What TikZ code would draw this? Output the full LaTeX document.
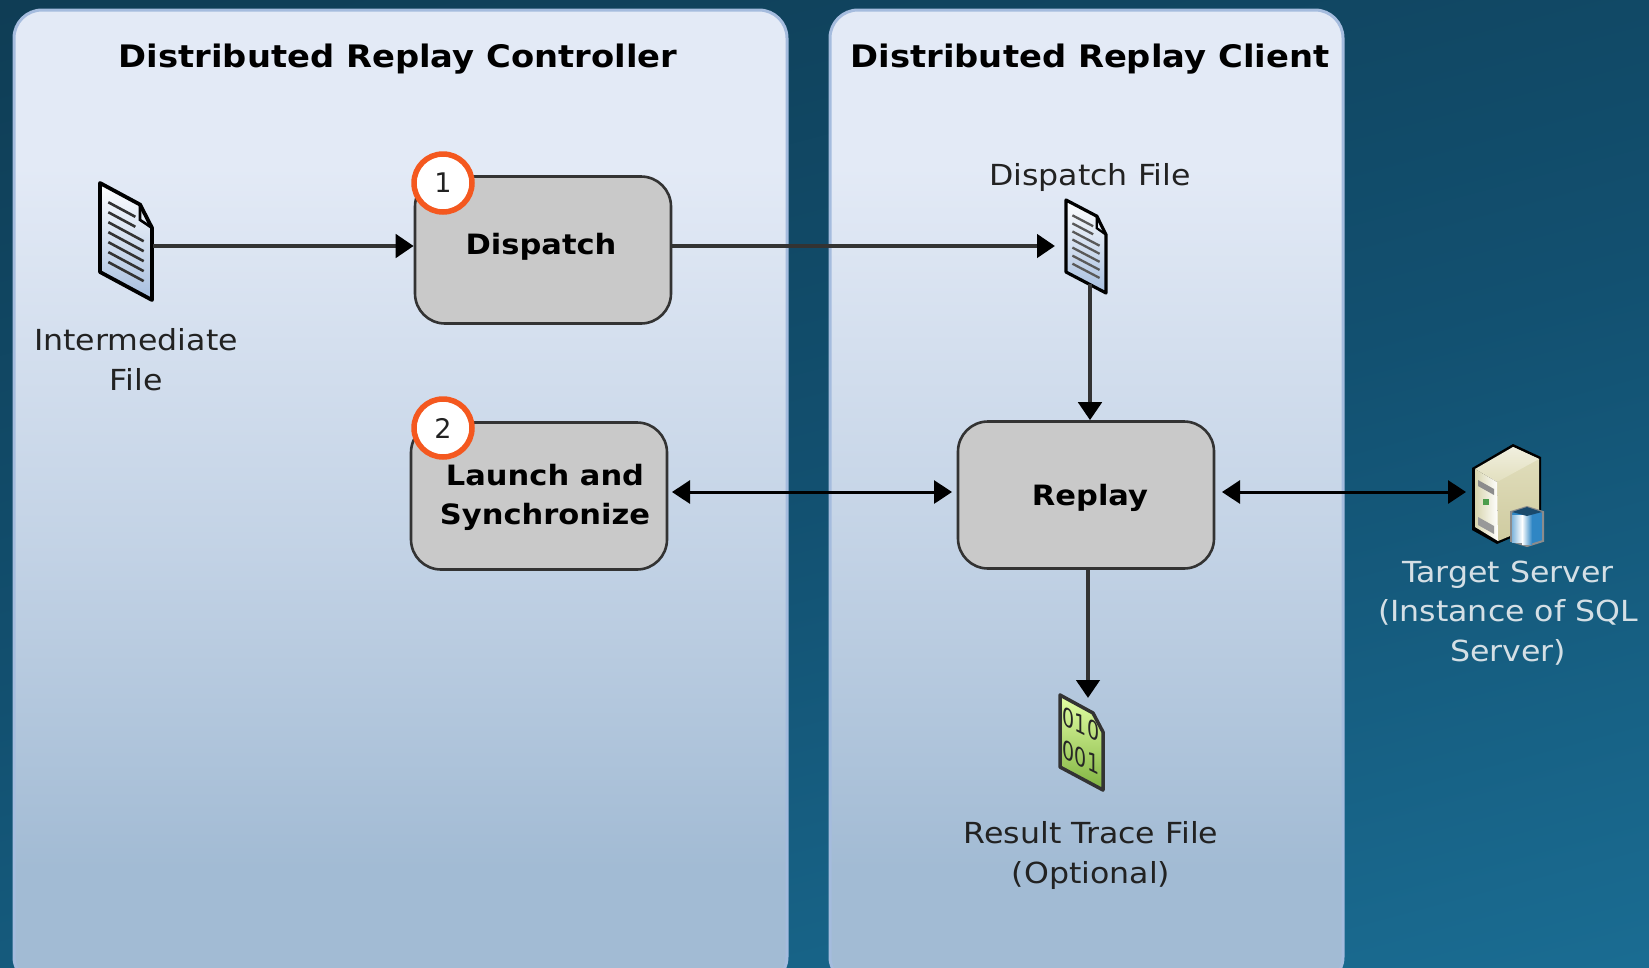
\documentclass[tikz,border=0pt]{standalone}
\usepackage{fontspec}
\setmainfont{DejaVu Sans}
\newfontfamily\wideface[FakeStretch=1.09]{DejaVu Sans}
\usetikzlibrary{arrows.meta}
\definecolor{bgTop}{HTML}{0F3D55}
\definecolor{bgMid}{HTML}{125070}
\definecolor{bgBot}{HTML}{1A6C92}
\definecolor{panelTop}{HTML}{E3EAF6}
\definecolor{panelMid}{HTML}{C2D2E5}
\definecolor{panelBot}{HTML}{A2BBD4}
\definecolor{panelEdge}{HTML}{A5BCDE}
\definecolor{boxFill}{HTML}{C9C9C9}
\definecolor{lineDark}{HTML}{333333}
\definecolor{badge}{HTML}{F4581F}
\definecolor{inkDark}{HTML}{222222}
\definecolor{fileBlue}{HTML}{A6BEDF}
\definecolor{srvSide}{HTML}{CFCBA0}
\definecolor{srvTop}{HTML}{E2DFBE}
\definecolor{srvFront}{HTML}{D8D5AE}
\definecolor{dbBlue}{HTML}{2F86C4}
\pgfdeclareverticalshading{panelshade}{100bp}{color(0bp)=(panelBot); color(31bp)=(panelBot); color(47bp)=(panelMid); color(67bp)=(panelTop); color(100bp)=(panelTop)}
\tikzset{
  x=1pt,y=-1pt,
  panel/.style={draw=panelEdge,line width=3pt,rounded corners=28pt,shading=panelshade},
  stepbox/.style={draw=lineDark,line width=2.6pt,rounded corners=30pt,fill=boxFill,minimum width=256pt,minimum height=147pt,inner sep=0pt},
  steptext/.style={font=\wideface\bfseries\fontsize{28}{39}\selectfont,text=black,align=center,inner sep=0pt},
  title/.style={font=\wideface\bfseries\fontsize{31}{36}\selectfont,text=black,inner sep=0pt},
  label/.style={font=\wideface\fontsize{29}{40}\selectfont,text=inkDark,align=center,inner sep=0pt},
  srvlabel/.style={font=\wideface\fontsize{29}{39.5}\selectfont,text=white!82!bgMid,align=center,inner sep=0pt},
  badgenode/.style={circle,draw=badge,line width=5.5pt,fill=white,minimum size=58pt,inner sep=0pt,font=\fontsize{27}{30}\selectfont,text=inkDark},
  flow/.style={draw=lineDark,line width=4.5pt,-{Triangle[length=18pt,width=23pt,color=black]}},
  flowboth/.style={draw=black,line width=3pt,{Triangle[length=18pt,width=23pt]}-{Triangle[length=18pt,width=23pt]}},
  bintext/.style={font=\fontsize{19}{22}\selectfont,text=black!85,inner sep=0pt,transform shape},
}
\newcommand{\fileshape}[6]{%
  \draw[black,line width=#6,line join=round,top color=white,bottom color=fileBlue]
    (#1,#2) -- ({#1+.77*#3},{#2+.77*#4}) -- ({#1+#3},{#2+#4+.19*#5}) -- ({#1+#3},{#2+#4+#5}) -- (#1,{#2+#5}) -- cycle;
  \draw[black,line width=#6*.7] ({#1+.77*#3},{#2+.77*#4}) -- ({#1+.77*#3},{#2+#4+.10*#5}) -- ({#1+#3},{#2+#4+.19*#5});
}
\newcommand{\filelines}[7]{%
  \foreach \k/\ue in {0/.68,1/.68,2/.84,3/.84,4/.84,5/.84,6/.84}{
    \pgfmathsetmacro{\vv}{.166+\k*.112}
    \draw[#6,line width=#7] ({#1+.16*#3},{#2+.16*#4+\vv*#5}) -- ({#1+\ue*#3},{#2+\ue*#4+\vv*#5});
  }
}
\begin{document}
\begin{tikzpicture}
\useasboundingbox (0,0) rectangle (1649,967);
\clip (0,0) rectangle (1649,967);
\shade[top color=bgTop,bottom color=bgBot,middle color=bgMid,shading angle=15] (-200,-100) rectangle (1849,1067);

\path[panel] (14,10) rectangle (787,985);
\path[panel] (830,10) rectangle (1343,985);

\node[title] (t1) at (398,59) {Distributed Replay Controller};
\node[title] (t2) at (1090,59) {Distributed Replay Client};

\node[stepbox] (disp) at (543,250) {};
\node[steptext] (displ) at (541,247) {Dispatch};
\node[stepbox] (launch) at (539,496) {};
\node[steptext] (launchl) at (545,497) {Launch and\\Synchronize};
\node[stepbox] (replay) at (1086,495) {};
\node[steptext] (replayl) at (1090,498) {Replay};

\node[badgenode] (b1) at (443,183) {1};
\node[badgenode] (b2) at (443,428) {2};

% intermediate file
\fileshape{100}{183}{52}{28}{89}{3.8pt}
\filelines{100}{183}{52}{28}{89}{lineDark}{2.6pt}
\coordinate (f1r) at (153,246);
\node[label] (f1l) at (136,360) {Intermediate\\File};

% dispatch file
\fileshape{1066}{200}{40}{21}{72}{3.2pt}
\filelines{1066}{200}{40}{21}{72}{black!65}{2.3pt}
\coordinate (f2l) at (1055,246);
\coordinate (f2b) at (1090,284);
\node[label] (f2t) at (1090,177) {Dispatch File};

% result file
\draw[black!80,line width=3.5pt,line join=round,top color=green!30!yellow!35!white,bottom color=green!45!yellow!60!black!75]
  (1060,695) -- (1093,713) -- (1103,732) -- (1103,790) -- (1060,767) -- cycle;
\begin{scope}[shift={(1081,724)},cm={1,-0.5,0,1.35,(0,0)}]
  \node[bintext] (bin1) at (0,0) {010};
\end{scope}
\begin{scope}[shift={(1081,757)},cm={1,-0.5,0,1.35,(0,0)}]
  \node[bintext] (bin2) at (0,0) {001};
\end{scope}
\coordinate (f3t) at (1088,698);
\coordinate (f3s) at (1088,568);
\node[label] (f3l) at (1091,855) {Result Trace File\\(Optional)};

% server
\fill[black] (1513,444) -- (1541,457) -- (1541,525) -- (1497,544) -- (1472,530) -- (1472,468) -- cycle;
\shade[top color=srvTop,bottom color=srvSide] (1513,447) -- (1539,459) -- (1539,524) -- (1498,541) -- (1497,482) -- cycle;
\shade[top color=srvTop!50!white,bottom color=srvTop] (1513,447) -- (1475,469) -- (1497,482) -- (1539,459) -- cycle;
\shade[left color=srvFront,right color=white] (1475,469) -- (1497,482) -- (1498,541) -- (1475,527) -- cycle;
\fill[black!45] (1478,480) -- (1494,489) -- (1494,495) -- (1478,486) -- cycle;
\fill[green!45!black!70] (1483,499) rectangle (1489,505);
\fill[black!40] (1478,517) -- (1494,526) -- (1494,534) -- (1478,525) -- cycle;
\draw[black!45,line width=2pt,fill=dbBlue] (1511,512) -- (1511,541) -- (1527,546) -- (1543,541) -- (1543,512) -- (1527,507) -- cycle;
\shade[left color=dbBlue!60!white,right color=white] (1512,515) rectangle (1522,542);
\shade[left color=white,right color=dbBlue] (1522,515) rectangle (1532,544);
\fill[dbBlue!55!black] (1512,512) -- (1527,507) -- (1542,512) -- (1527,516) -- cycle;
\coordinate (srvl) at (1466,492);
\node[srvlabel] (srvt) at (1508,613) {Target Server\\(Instance of SQL\\Server)};

% connector ends on the shared horizontal
\coordinate (la) at (672,492);
\coordinate (ra) at (952,492);
\coordinate (rb) at (1222,492);

% connectors
\draw[flow] (f1r) -- (disp.west |- f1r);
\draw[flow] (disp.east |- f2l) -- (f2l);
\draw[flow] (f2b) -- (replay.north -| f2b);
\draw[flowboth] (la) -- (ra);
\draw[flowboth] (rb) -- (srvl);
\draw[flow] (f3s) -- (f3t);
\end{tikzpicture}
\end{document}
